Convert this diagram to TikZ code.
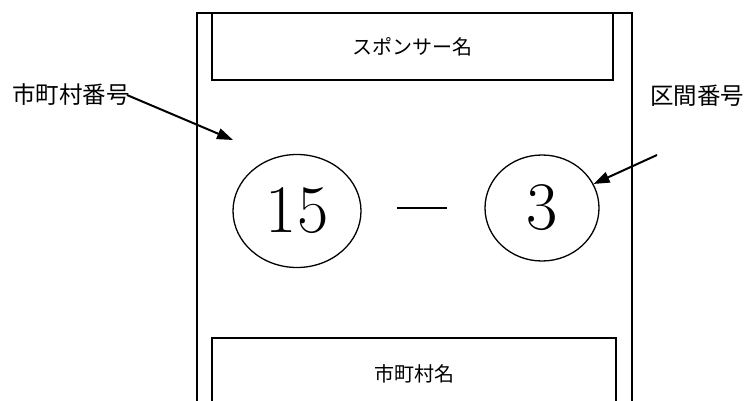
\documentclass[tikz,border=0pt]{standalone}
\usepackage{fontspec}
\newfontfamily\jpfont{Noto Sans CJK JP}
\usetikzlibrary{shapes.geometric,arrows.meta}

\begin{document}
\begin{tikzpicture}[x=1pt,y=-1pt,
    frameline/.style={line width=2.6pt},
    namebox/.style={draw,line width=2.6pt,inner sep=0pt,font=\jpfont\fontsize{20}{24}\selectfont},
    numoval/.style={draw,ellipse,line width=1.3pt,inner sep=0pt,font=\fontsize{68}{70}\selectfont},
    tag/.style={font=\jpfont\fontsize{23.5}{26}\selectfont,inner sep=0pt},
    pointer/.style={line width=2pt,-{Triangle[length=16pt,width=11pt]}}]
    \useasboundingbox (0,0) rectangle (750,401);

    % the frame, open at the bottom
    \draw[frameline] (197,406) -- (197,13) -- (632,13) -- (632,406);

    % name boxes
    \node[namebox, minimum width=401pt, minimum height=67pt] (sponsor) at (412.5,46.5) {スポンサー名};
    \node[namebox, minimum width=404pt, minimum height=72pt] (townname) at (414,374) {市町村名}; % bottom edge lies below the page

    % the two numbers
    \node[numoval, minimum width=128pt, minimum height=113pt] (cityno) at (297,211) {15};
    \node[numoval, minimum width=114pt, minimum height=106pt] (sectno) at (542,208) {3};
    \draw[line width=2.8pt] (397,208) -- (447,208);

    % labels with their arrows
    \node[tag] (citytag) at (71,95) {市町村番号};
    \node[tag] (secttag) at (697,96) {区間番号};
    \coordinate (citytip) at (233,140);
    \coordinate (secttail) at (657,155);
    \draw[pointer] ([xshift=-3pt]citytag.east) -- (citytip);
    \draw[pointer] (secttail) -- (sectno.25);
\end{tikzpicture}
\end{document}
